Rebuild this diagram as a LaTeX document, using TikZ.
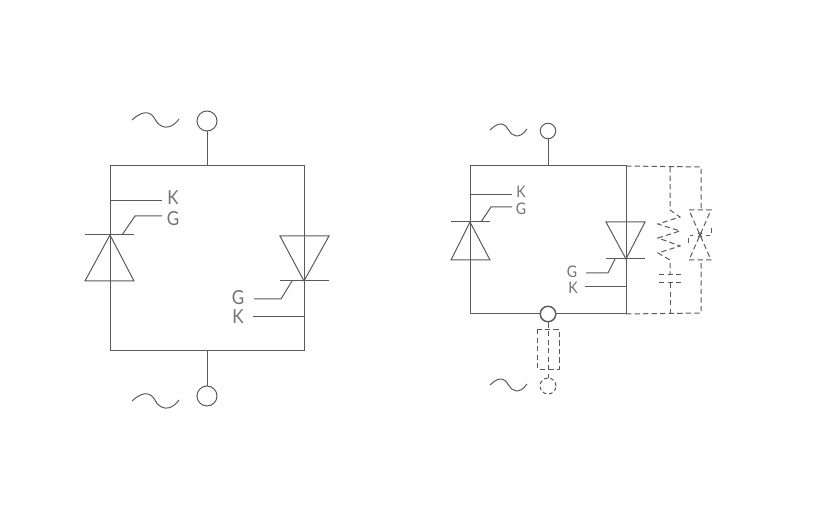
\documentclass[tikz,border=0pt]{standalone}
\usepackage{fontspec}
\setmainfont[FakeStretch=0.88]{Lato}
\definecolor{ink}{HTML}{5A5A5A}
\definecolor{letter}{HTML}{737373}
\tikzset{
  wire/.style={draw=ink,line width=0.75pt},
  dash wire/.style={wire,dash pattern=on 4pt off 2.4pt},
  term/.style={circle,draw=ink,line width=0.75pt,fill=white,inner sep=0pt,minimum size=#1},
  dash term/.style={term=#1,dash pattern=on 2.8pt off 2pt},
  big/.style={font=\fontsize{14.5pt}{15pt}\selectfont,text=letter,inner sep=0pt},
  small/.style={font=\fontsize{12pt}{13pt}\selectfont,text=letter,inner sep=0pt}
}
\newcommand{\tildeat}[4]{% x0, y, width, amp
  \draw[wire] (#1,#2) .. controls ({#1+0.28*#3},{#2-2.0*#4}) and ({#1+0.42*#3},{#2-1.2*#4}) .. ({#1+0.5*#3},#2)
    .. controls ({#1+0.58*#3},{#2+1.2*#4}) and ({#1+0.8*#3},{#2+2.0*#4}) .. ({#1+#3},#2-1);}
\begin{document}
\begin{tikzpicture}[x=0.75pt,y=-0.75pt]
\useasboundingbox (0,0) rectangle (820,516);
% ---- left circuit
\coordinate (LA) at (110,166); \coordinate (LB) at (304,166);
\coordinate (LC) at (304,350); \coordinate (LD) at (110,350);
\draw[wire] (LA) -- (LB) -- (LC) -- (LD) -- cycle;
\node[term=20pt*0.75] (t1) at (207,121) {};
\node[term=20pt*0.75] (t2) at (207,396) {};
\draw[wire] (t1) -- (207,166);
\draw[wire] (t2) -- (207,350);
\tildeat{132}{120}{47}{6}
\tildeat{132}{401}{47}{6}
% left thyristor
\draw[wire] (85,235) -- (134,235);
\draw[wire] (110,235) -- (134,281) -- (85,281) -- cycle;
\node[big] (k1) at (173,198) {K};
\node[big] (g1) at (173,219) {G};
\draw[wire] (110,201) -- (162,201);
\draw[wire] (122,235) -- (135,216) -- (162,216);
% right thyristor
\draw[wire] (280,281) -- (329,281);
\draw[wire] (304,281) -- (329,236) -- (280,236) -- cycle;
\node[big] (g2) at (238,298) {G};
\node[big] (k2) at (238,317) {K};
\draw[wire] (292,281) -- (281,299) -- (254,299);
\draw[wire] (253,317) -- (304,317);
% ---- right circuit
\coordinate (RA) at (470,166); \coordinate (RB) at (626,166);
\coordinate (RC) at (626,314); \coordinate (RD) at (470,314);
\draw[wire] (RA) -- (RB) -- (RC) -- (RD) -- cycle;
\node[term=15.5pt*0.75] (t3) at (548,131) {};
\node[term=15.5pt*0.75,line width=1.1pt] (t4) at (548,314) {};
\draw[wire] (t3) -- (548,166);
\tildeat{490}{130}{37}{5}
\tildeat{490}{385}{37}{5}
% left thyristor
\draw[wire] (451,222) -- (490,222);
\draw[wire] (470,222) -- (490,260) -- (451,260) -- cycle;
\node[small] (k3) at (521,192) {K};
\node[small] (g3) at (521,209) {G};
\draw[wire] (470,195) -- (512,195);
\draw[wire] (481,222) -- (491,207) -- (512,207);
% right thyristor
\draw[wire] (606,259) -- (645,259);
\draw[wire] (626,259) -- (645,222) -- (606,222) -- cycle;
\node[small] (g4) at (572,272) {G};
\node[small] (k4) at (573,288) {K};
\draw[wire] (615,259) -- (608,273) -- (586,273);
\draw[wire] (585,287) -- (626,287);
% dashed fuse + terminal
\node[dash term=16pt*0.75] (t5) at (548,386) {};
\draw[dash wire] (t4) -- (t5);
\draw[dash wire] (537,329) rectangle (559,369);
% dashed snubber
\draw[dash wire] (RB) -- (701,167) -- (701,210);
\draw[dash wire] (RC) -- (701,313) -- (701,260);
\draw[dash wire] (670,167) -- (670,210) -- (680,217) -- (658,224) -- (680,231) -- (658,238) -- (680,246) -- (658,253) -- (670,260) -- (670,275);
\draw[dash wire] (659,275) -- (681,275);
\draw[dash wire] (659,283) -- (681,283);
\draw[dash wire] (670,283) -- (670,313);
\draw[dash wire] (689,210) -- (711,210) -- (700,235) -- cycle;
\draw[dash wire] (689,260) -- (711,260) -- (700,235) -- cycle;
\draw[dash wire] (688,243) -- (688,236) -- (693,236);
\draw[dash wire] (711,228) -- (711,236) -- (706,236);
\draw[wire] (698,233) -- (702,237) (702,233) -- (698,237) (700,232.5) -- (700,237.5);
\end{tikzpicture}
\end{document}
